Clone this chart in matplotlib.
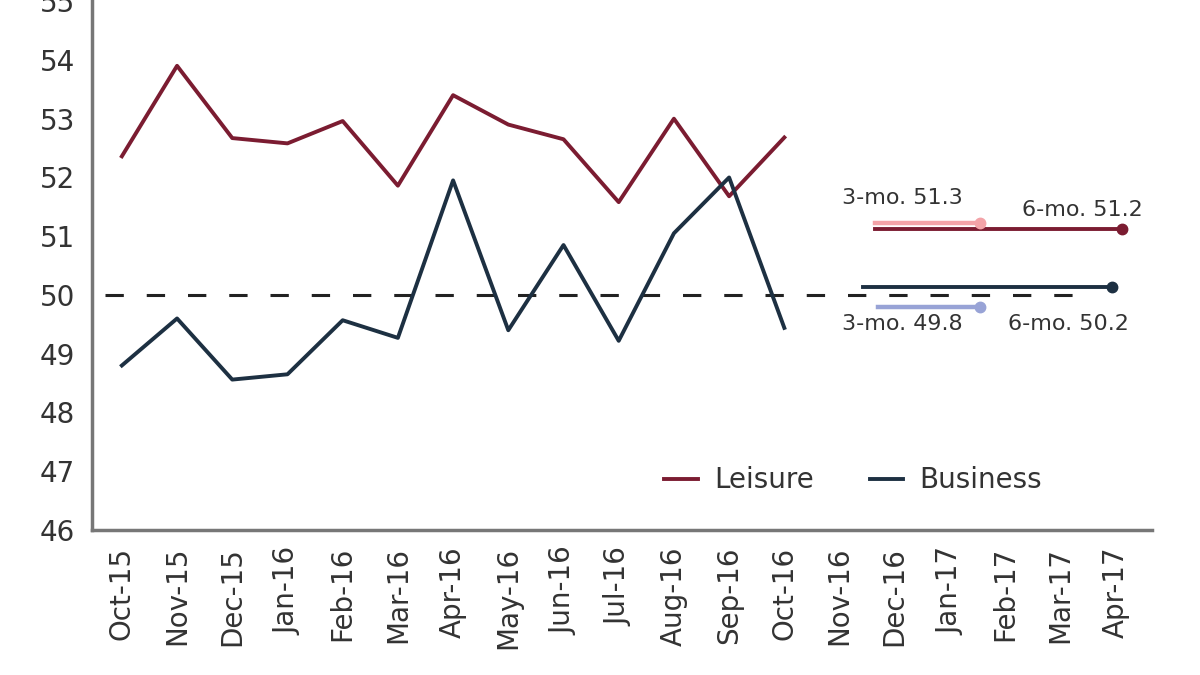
import matplotlib
matplotlib.use("Agg")
import matplotlib.pyplot as plt
import numpy as np

plt.rcParams['font.family'] = ['DejaVu Sans']

months = ['Oct-15', 'Nov-15', 'Dec-15', 'Jan-16', 'Feb-16', 'Mar-16', 'Apr-16',
          'May-16', 'Jun-16', 'Jul-16', 'Aug-16', 'Sep-16', 'Oct-16', 'Nov-16',
          'Dec-16', 'Jan-17', 'Feb-17', 'Mar-17', 'Apr-17']

leisure = [52.36, 53.9, 52.67, 52.58, 52.96, 51.86, 53.4, 52.9, 52.65,
           51.58, 53.0, 51.68, 52.68]
business = [48.8, 49.6, 48.56, 48.65, 49.57, 49.27, 51.95, 49.4, 50.85,
            49.22, 51.05, 52.0, 49.44]

# projections: (x start, x end, value) in month-index units
lei_3mo = (13.64, 15.54, 51.23)
lei_6mo = (13.64, 18.12, 51.12)
bus_3mo = (13.7, 15.54, 49.8)
bus_6mo = (13.42, 17.93, 50.14)

red = '#7b1c31'
navy = '#1d3042'
pink = '#f3a3a8'
lblue = '#98a3d6'
grey = '#777777'
txt = '#333333'

fig = plt.figure(figsize=(12, 6.75), dpi=100)
ax = fig.add_axes([0.0767, 0.2148, 0.8833, 0.7852])

x = np.arange(len(leisure))
ax.plot([-0.3, 17.3], [50, 50], color='#222222', lw=2.2, dashes=(6, 7.5))

ax.plot(x, leisure, color=red, lw=2.8, label='Leisure')
ax.plot(x, business, color=navy, lw=2.8, label='Business')

ax.plot(lei_6mo[:2], [lei_6mo[2]] * 2, color=red, lw=2.8)
ax.plot(lei_6mo[1], lei_6mo[2], 'o', color=red, ms=7.5)
ax.plot(lei_3mo[:2], [lei_3mo[2]] * 2, color=pink, lw=3.2)
ax.plot(lei_3mo[1], lei_3mo[2], 'o', color=pink, ms=7.5)

ax.plot(bus_6mo[:2], [bus_6mo[2]] * 2, color=navy, lw=2.8)
ax.plot(bus_6mo[1], bus_6mo[2], 'o', color=navy, ms=7.5)
ax.plot(bus_3mo[:2], [bus_3mo[2]] * 2, color=lblue, lw=3.2)
ax.plot(bus_3mo[1], bus_3mo[2], 'o', color=lblue, ms=7.5)

ax.text(13.05, 51.65, '3-mo. 51.3', fontsize=16, color=txt, va='center')
ax.text(16.3, 51.45, '6-mo. 51.2', fontsize=16, color=txt, va='center')
ax.text(13.05, 49.5, '3-mo. 49.8', fontsize=16, color=txt, va='center')
ax.text(16.05, 49.5, '6-mo. 50.2', fontsize=16, color=txt, va='center')

ax.set_xlim(-0.54, 18.66)
ax.set_ylim(46, 55.02)
ax.set_yticks(range(46, 56))
ax.set_xticks(np.arange(len(months)))
ax.set_xticklabels(months, rotation=90)
ax.tick_params(length=0, labelsize=20, colors=txt, pad=12)
ax.tick_params(axis='y', pad=12)

for s in ['top', 'right']:
    ax.spines[s].set_visible(False)
for s in ['left', 'bottom']:
    ax.spines[s].set_color(grey)
    ax.spines[s].set_linewidth(2.5)

ax.legend(loc='lower right', bbox_to_anchor=(0.92, 0.02), ncol=2, frameon=False,
          fontsize=20, handlelength=1.2, handletextpad=0.6, columnspacing=2.0,
          labelcolor=txt)

fig.savefig('out.png', dpi=100)
